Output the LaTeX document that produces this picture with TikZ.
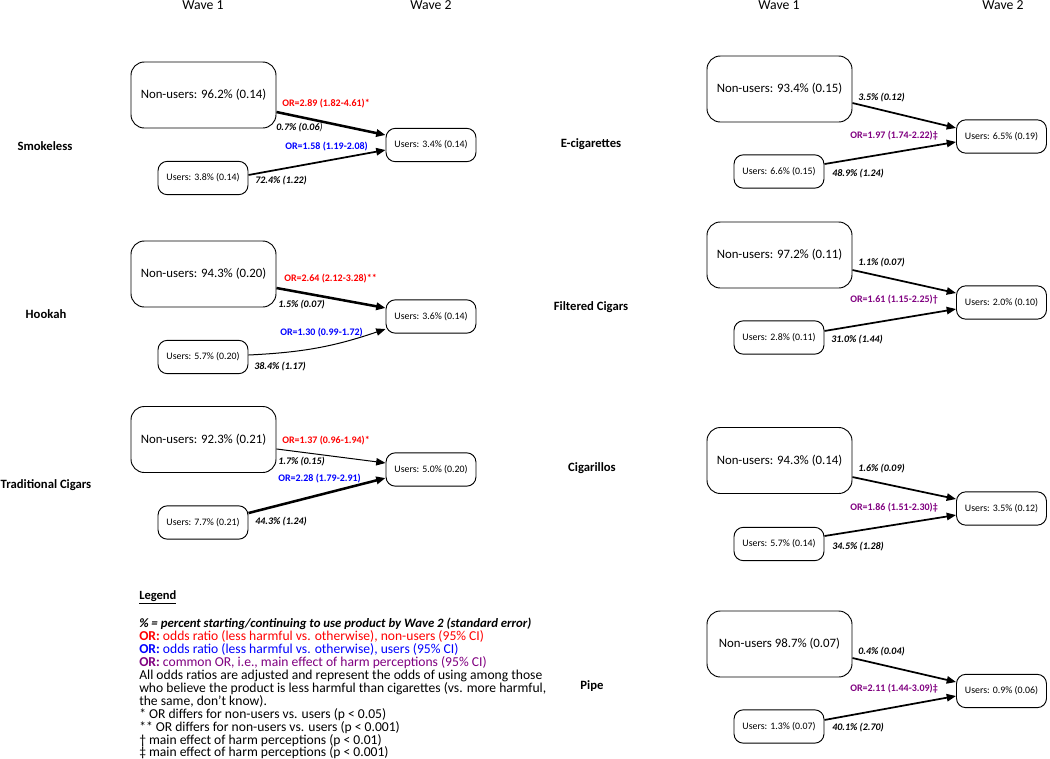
\documentclass[tikz,border=0pt]{standalone}
\usepackage{fontspec}
\setmainfont{Carlito}
\usetikzlibrary{arrows.meta}
\definecolor{orred}{RGB}{255,0,0}
\definecolor{orblue}{RGB}{0,0,255}
\definecolor{orpurple}{RGB}{128,0,128}
\tikzset{
  nonbox/.style = {draw, rounded corners=10pt, line width=0.7pt, minimum width=108.75pt,
    minimum height=49.5pt, font=\fontsize{9.6}{11}\selectfont},
  userbox/.style = {draw, rounded corners=7pt, line width=0.7pt, minimum width=67.5pt,
    minimum height=25pt, font=\fontsize{7.4}{9}\selectfont},
  product/.style = {font=\fontsize{9.5}{11}\selectfont\bfseries},
  wave/.style = {anchor=base, font=\fontsize{10.3}{12}\selectfont},
  pct/.style = {anchor=west, inner sep=0pt, font=\fontsize{7.5}{9}\selectfont\bfseries\itshape},
  ornon/.style = {pct, font=\fontsize{7.5}{9}\selectfont\bfseries, text=orred},
  oruse/.style = {ornon, text=orblue},
  orall/.style = {ornon, text=orpurple},
  flow/.style = {-{Triangle[length=7pt,width=5.5pt]}},
  thinflow/.style = {flow, line width=0.75pt},
  midflow/.style = {flow, line width=1.3pt},
  thickflow/.style = {flow, line width=1.9pt}
}
\begin{document}
\begin{tikzpicture}[x=0.75pt, y=-0.75pt]
  \useasboundingbox (0,0) rectangle (1050,758);
  \node[wave] (w1l) at (203, 9.3) {Wave 1} % left
  node[wave] (w2l) at (431, 9.3) {Wave 2}
  node[wave] (w1r) at (779, 9.3) {Wave 1} % right
  node[wave] (w2r) at (1003, 9.3) {Wave 2};

  % smokeless
  \node[product] (smoke) at (45, 146) {Smokeless};
  \node[nonbox] (sn) at (203.5, 95) {Non-users: 96.2\% (0.14)} % wave 1, top
  node[userbox] (su) at (203, 178) {Users: 3.8\% (0.14)} % wave 1, bottom
  node[userbox] (sw) at (431, 145) {Users: 3.4\% (0.14)}; % wave 2
  \draw[thickflow] ([yshift=-12.75pt]sn.east) -- ([yshift=7.5pt]sw.west);
  \draw[midflow] ([yshift=2.25pt]su.east) -- ([yshift=-3.75pt]sw.west);
  \node[ornon] (snor) at (282, 104) {OR=2.89 (1.82-4.61)*};
  \node[pct] (snpct) at (276, 128) {0.7\% (0.06\textmd{)}};
  \node[oruse] (suor) at (285, 147) {OR=1.58 (1.19-2.08)};
  \node[pct] (supct) at (255, 181) {72.4\% (1.22)};

  % hookah
  \node[product] (hook) at (46, 314) {Hookah};
  \node[nonbox] (hn) at (203.5, 274) {Non-users: 94.3\% (0.20)}
  node[userbox] (hu) at (203, 357) {Users: 5.7\% (0.20)}
  node[userbox] (hw) at (431, 316.5) {Users: 3.6\% (0.14)};
  \draw[thickflow] ([yshift=-10.5pt]hn.east) -- ([yshift=6.4pt]hw.west);
  \draw[thinflow] ([yshift=1.5pt]hu.east) to[bend right=8] ([yshift=-9.4pt]hw.west);
  \node[ornon] (hnor) at (284, 279) {OR=2.64 (2.12-3.28)**};
  \node[pct] (hnpct) at (278, 305) {1.5\% (0.07)};
  \node[oruse] (huor) at (280, 333) {OR=1.30 (0.99-1.72)};
  \node[pct] (hupct) at (254, 367) {38.4\% (1.17)};

  % traditional cigars
  \node[product] (trad) at (46, 485) {Traditional Cigars};
  \node[nonbox] (tn) at (203.5, 439.5) {Non-users: 92.3\% (0.21)}
  node[userbox] (tu) at (203, 522.5) {Users: 7.7\% (0.21)}
  node[userbox] (tw) at (431, 469.5) {Users: 5.0\% (0.20)};
  \draw[thinflow] ([yshift=-7.1pt]tn.east) -- ([yshift=4.9pt]tw.west);
  \draw[thickflow] ([yshift=7.1pt]tu.east) -- ([yshift=-6.4pt]tw.west);
  \node[ornon] (tnor) at (282, 441) {OR=1.37 (0.96-1.94)*};
  \node[pct] (tnpct) at (278, 462) {1.7\% (0.15)};
  \node[oruse] (tuor) at (278, 479) {OR=2.28 (1.79-2.91)};
  \node[pct] (tupct) at (255, 522) {44.3\% (1.24)};

  % legend
  \node[anchor=north west, inner sep=0pt, align=left, font=\fontsize{10.2}{9.7}\selectfont]
    (legend) at (139, 590) {{\fontsize{9.4}{9.7}\selectfont\underline{\textbf{Legend}}}\\[9.7pt]
    {\fontsize{9.6}{9.7}\selectfont\textbf{\textit{\% = percent starting/continuing to use product by Wave 2 (standard error)}}}\\
    \textcolor{orred}{\textbf{OR:} odds ratio (less harmful vs. otherwise), non-users (95\% CI)}\\
    \textcolor{orblue}{\textbf{OR:} odds ratio (less harmful vs. otherwise), users (95\% CI)}\\
    \textcolor{orpurple}{\textbf{OR:} common OR, i.e., main effect of harm perceptions (95\% CI)}\\
    All odds ratios are adjusted and represent the odds of using among those\\
    who believe the product is less harmful than cigarettes (vs. more harmful,\\
    the same, don't know).\\
    * OR differs for non-users vs. users (p < 0.05)\\
    ** OR differs for non-users vs. users (p < 0.001)\\
    † main effect of harm perceptions (p < 0.01)\\
    ‡ main effect of harm perceptions (p < 0.001)};

  % e-cigarettes
  \node[product] (ecig) at (591, 144) {E-cigarettes};
  \node[nonbox] (en) at (779.5, 89) {Non-users: 93.4\% (0.15)}
  node[userbox] (eu) at (779, 171.5) {Users: 6.6\% (0.15)}
  node[userbox] (ew) at (1001.5, 136.5) {Users: 6.5\% (0.19)};
  \draw[midflow] ([yshift=-10.5pt]en.east) -- ([yshift=6.4pt]ew.west);
  \draw[midflow] ([yshift=5.6pt]eu.east) -- ([yshift=-4.1pt]ew.west);
  \node[pct] (enpct) at (858, 98) {3.5\% (0.12)};
  \node[orall] (eor) at (850, 136) {OR=1.97 (1.74-2.22)‡};
  \node[pct] (eupct) at (832, 174) {48.9\% (1.24)};

  % filtered cigars
  \node[product] (filt) at (591, 307) {Filtered Cigars};
  \node[nonbox] (fn) at (779.5, 255) {Non-users: 97.2\% (0.11)}
  node[userbox] (fu) at (779, 337.5) {Users: 2.8\% (0.11)}
  node[userbox] (fw) at (1001.5, 302.5) {Users: 2.0\% (0.10)};
  \draw[midflow] ([yshift=-11.25pt]fn.east) -- ([yshift=7.1pt]fw.west);
  \draw[midflow] ([yshift=4.9pt]fu.east) -- ([yshift=-4.9pt]fw.west);
  \node[pct] (fnpct) at (858, 263) {1.1\% (0.07)};
  \node[orall] (for) at (850, 300) {OR=1.61 (1.15-2.25)†};
  \node[pct] (fupct) at (831, 340) {31.0\% (1.44)};

  % cigarillos
  \node[product] (cigr) at (592, 468) {Cigarillos};
  \node[nonbox] (cn) at (779.5, 460.5) {Non-users: 94.3\% (0.14)}
  node[userbox] (cu) at (779, 544) {Users: 5.7\% (0.14)}
  node[userbox] (cw) at (1001.5, 508.5) {Users: 3.5\% (0.12)};
  \draw[midflow] ([yshift=-12.4pt]cn.east) -- ([yshift=7.1pt]cw.west);
  \draw[midflow] ([yshift=6pt]cu.east) -- ([yshift=-4.9pt]cw.west);
  \node[pct] (cnpct) at (858, 469) {1.6\% (0.09)};
  \node[orall] (cor) at (850, 508) {OR=1.86 (1.51-2.30)‡};
  \node[pct] (cupct) at (832, 547) {34.5\% (1.28)};

  % pipe
  \node[product] (pipe) at (592, 686) {Pipe};
  \node[nonbox] (pn) at (779.5, 644) {Non-users 98.7\% (0.07)}
  node[userbox] (pu) at (779, 726.5) {Users: 1.3\% (0.07)}
  node[userbox] (pw) at (1001.5, 691) {Users: 0.9\% (0.06)};
  \draw[midflow] ([yshift=-10.5pt]pn.east) -- ([yshift=6.75pt]pw.west);
  \draw[midflow] ([yshift=4.9pt]pu.east) -- ([yshift=-3.75pt]pw.west);
  \node[pct] (pnpct) at (858, 652) {0.4\% (0.04)};
  \node[orall] (por) at (850, 689) {OR=2.11 (1.44-3.09)‡};
  \node[pct] (pupct) at (832, 728) {40.1\% (2.70)};
\end{tikzpicture}
\end{document}
